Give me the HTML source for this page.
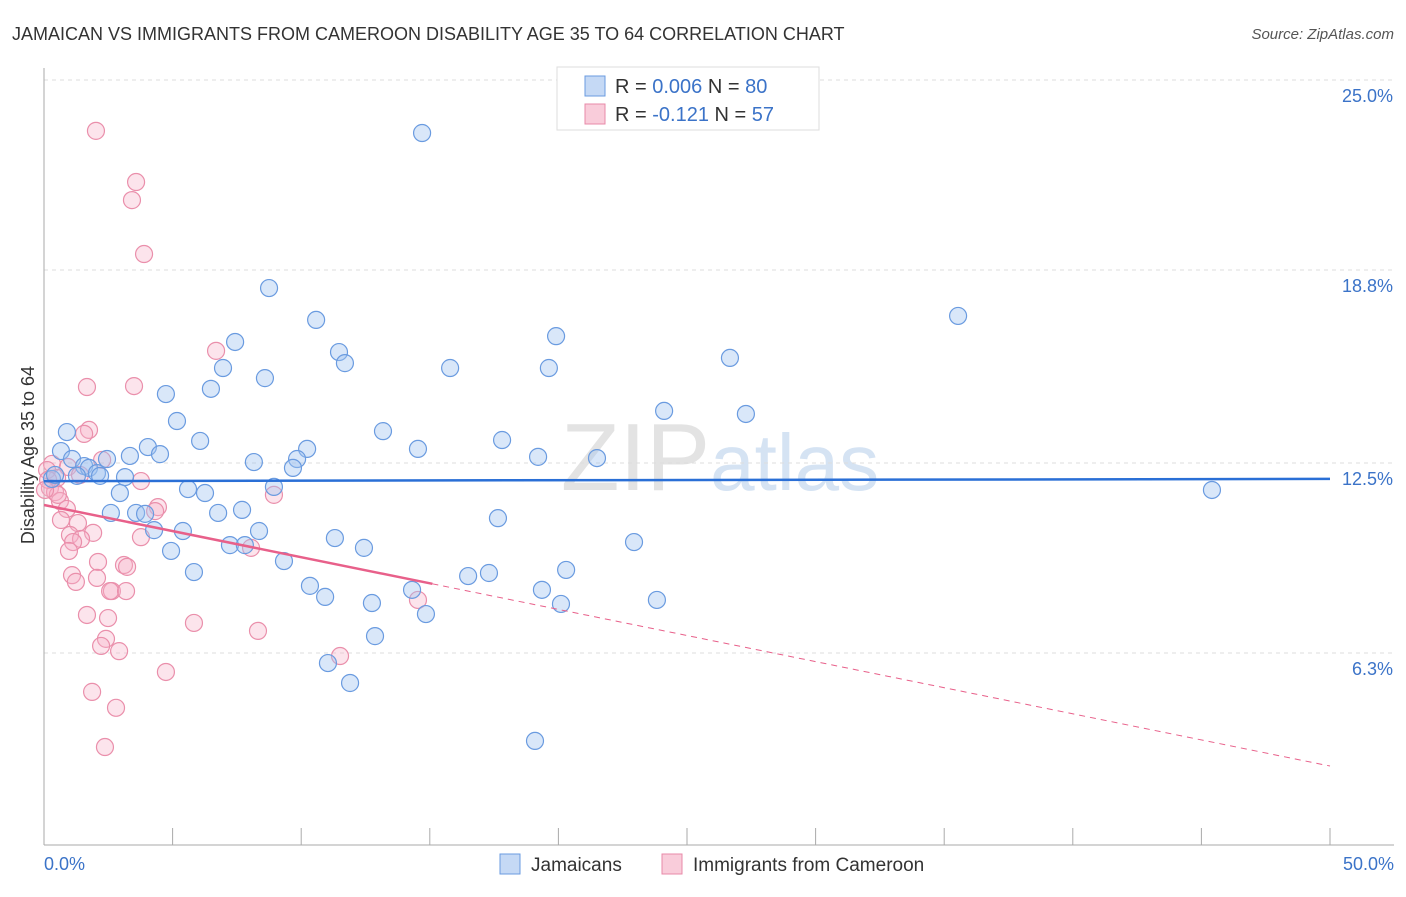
<!DOCTYPE html>
<html><head><meta charset="utf-8"><style>
body{margin:0;background:#fff;font-family:"Liberation Sans",sans-serif;}
svg text{font-family:"Liberation Sans",sans-serif;}
</style></head><body>
<svg id="chart" width="1406" height="892" viewBox="0 0 1406 892" xmlns="http://www.w3.org/2000/svg">
<text x="12" y="40" font-size="18" fill="#333">JAMAICAN VS IMMIGRANTS FROM CAMEROON DISABILITY AGE 35 TO 64 CORRELATION CHART</text>
<text x="1394" y="39" font-size="15" fill="#555" text-anchor="end" font-style="italic">Source: ZipAtlas.com</text>
<text x="720" y="490" font-size="96" fill="#e3e3e3" text-anchor="middle" font-family="Liberation Serif">ZIP<tspan fill="#d5e3f3" font-family="Liberation Sans" font-size="80">atlas</tspan></text>
<g id="grid"></g>
<g id="axes"></g>
<g id="points"></g>
<g id="trends"></g>
<text transform="translate(34,455) rotate(-90)" font-size="18" fill="#333" text-anchor="middle">Disability Age 35 to 64</text>
<text x="44" y="870" font-size="18" fill="#3b73c8">0.0%</text>
<text x="1394" y="870" font-size="18" fill="#3b73c8" text-anchor="end">50.0%</text>
<g>
<rect x="557" y="67" width="262" height="63" fill="#fff" stroke="#ddd"/>
<rect x="585" y="76" width="20" height="20" fill="#c5d9f5" stroke="#6a9be0"/>
<rect x="585" y="104" width="20" height="20" fill="#f9ccda" stroke="#e88aa8"/>
<text x="615" y="93" font-size="20" fill="#333">R = <tspan fill="#3b73c8">0.006</tspan>   N = <tspan fill="#3b73c8">80</tspan></text>
<text x="615" y="121" font-size="20" fill="#333">R = <tspan fill="#3b73c8"> -0.121</tspan>   N = <tspan fill="#3b73c8">57</tspan></text>
</g>
<g>
<rect x="500" y="854" width="20" height="20" fill="#c5d9f5" stroke="#6a9be0"/>
<text x="531" y="871" font-size="19" fill="#333">Jamaicans</text>
<rect x="662" y="854" width="20" height="20" fill="#f9ccda" stroke="#e88aa8"/>
<text x="693" y="871" font-size="19" fill="#333">Immigrants from Cameroon</text>
</g>
</svg>
<script>
const yTicks=[25.0,18.8,12.5,6.3];
const yTickLabels=["25.0%","18.8%","12.5%","6.3%"];
const xTickCount=10;
const blueX=[14.70,8.75,10.58,35.54,19.91,7.43,11.47,26.67,11.70,6.96,15.79,19.63,8.59,6.49,4.74,24.11,27.29,5.17,13.18,0.89,17.81,6.07,4.04,14.54,10.23,0.66,4.51,3.34,1.09,2.45,21.50,19.21,9.84,8.16,9.68,1.56,1.75,2.06,1.28,3.15,0.31,2.18,5.60,8.94,6.26,2.95,45.41,7.70,6.77,2.60,3.58,3.93,17.65,4.28,5.40,8.36,11.31,22.94,7.23,7.81,12.44,4.94,9.33,5.83,16.49,17.30,20.30,10.34,14.31,19.36,10.93,23.83,12.75,20.10,14.85,12.87,11.04,11.90,19.09,0.43];
const blueY=[23.27,18.21,17.17,17.30,16.64,16.45,16.12,15.93,15.76,15.60,15.60,15.60,15.27,14.92,14.75,14.20,14.10,13.87,13.54,13.51,13.25,13.22,13.02,12.96,12.96,12.89,12.79,12.73,12.63,12.63,12.66,12.70,12.63,12.53,12.34,12.40,12.34,12.17,12.08,12.04,11.98,12.08,11.65,11.72,11.52,11.52,11.62,10.97,10.87,10.87,10.87,10.84,10.70,10.31,10.28,10.28,10.05,9.92,9.82,9.82,9.73,9.63,9.30,8.94,8.81,8.91,9.01,8.49,8.36,8.36,8.13,8.03,7.93,7.90,7.57,6.85,5.97,5.32,3.43,12.11];
const pinkX=[2.02,3.58,3.42,3.89,6.69,1.67,3.50,1.75,1.56,0.31,0.93,1.40,3.77,0.51,0.23,0.43,8.94,0.62,4.43,4.32,0.89,0.66,1.32,1.91,3.77,1.01,1.44,1.13,0.97,8.05,2.10,3.11,3.23,1.09,2.06,1.24,2.64,2.57,3.19,14.54,1.67,2.49,5.83,8.32,2.41,2.22,2.92,11.51,4.74,1.87,2.80,2.37,0.12,0.16,0.54,0.04,2.26];
const pinkY=[23.34,21.67,21.08,19.32,16.16,14.98,15.01,13.58,13.45,12.47,12.37,12.11,11.91,12.01,11.68,11.55,11.46,11.26,11.06,10.93,11.00,10.64,10.54,10.22,10.08,10.15,10.02,9.92,9.63,9.73,9.27,9.17,9.11,8.84,8.75,8.62,8.32,8.32,8.32,8.03,7.54,7.44,7.28,7.02,6.76,6.53,6.36,6.20,5.68,5.03,4.51,3.23,12.27,11.95,11.46,11.62,12.60];
const blueTrend=[11.91,11.98];
const pinkTrend=[11.13,2.61];
const pinkSolidEnd=15.1;

const NS="http://www.w3.org/2000/svg";
const X0=44,X1=1330;
function xs(v){return X0+(v/50)*(X1-X0);}
function ys(v){return 463-(v-12.5)*30.64;}
function mk(tag,attrs,parent){const e=document.createElementNS(NS,tag);for(const k in attrs)e.setAttribute(k,attrs[k]);document.getElementById(parent).appendChild(e);return e;}

yTicks.forEach((t,i)=>{
  const g=mk('line',{x1:X0,x2:1394,y1:ys(t),y2:ys(t),stroke:'#ddd','stroke-dasharray':'4,4'},'grid');
  
  
  const l=mk('text',{x:1393,y:ys(t)+22,'font-size':18,fill:'#3b73c8','text-anchor':'end'},'grid');
  l.textContent=yTickLabels[i];
  
  
});
const ax=mk('line',{x1:X0,x2:X0,y1:68,y2:845,stroke:'#aaa'},'axes');


const bx=mk('line',{x1:X0,x2:1394,y1:845,y2:845,stroke:'#aaa'},'axes');


for(let i=0;i<=xTickCount;i++){
  const t=mk('line',{x1:xs(i*50/xTickCount),x2:xs(i*50/xTickCount),y1:828,y2:845,stroke:'#aaa'},'axes');
  
  
}
pinkX.forEach((v,i)=>{
  const c=mk('circle',{cx:xs(v),cy:ys(pinkY[i]),r:8.5,fill:'rgba(246,178,200,0.35)',stroke:'#ea8fab','stroke-width':1.2},'points');
  
  
});
blueX.forEach((v,i)=>{
  const c=mk('circle',{cx:xs(v),cy:ys(blueY[i]),r:8.5,fill:'rgba(160,195,240,0.4)',stroke:'#6a9be0','stroke-width':1.2},'points');
  
  
});
const bt=mk('line',{x1:xs(0),y1:ys(blueTrend[0]),x2:xs(50),y2:ys(blueTrend[1]),stroke:'#2a6fd6','stroke-width':2.5},'trends');


const pm=pinkTrend[0]+(pinkTrend[1]-pinkTrend[0])*pinkSolidEnd/50;
const ps=mk('line',{x1:xs(0),y1:ys(pinkTrend[0]),x2:xs(pinkSolidEnd),y2:ys(pm),stroke:'#e8608a','stroke-width':2.5},'trends');


const pd=mk('line',{x1:xs(pinkSolidEnd),y1:ys(pm),x2:xs(50),y2:ys(pinkTrend[1]),stroke:'#e8608a','stroke-width':1,'stroke-dasharray':'6,5'},'trends');


</script>
</body></html>
